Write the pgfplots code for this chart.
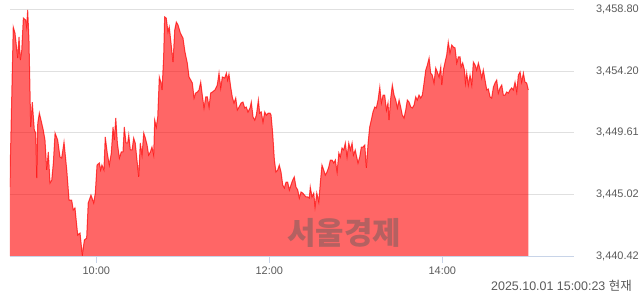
\documentclass[border=0pt]{standalone}
\usepackage{pgfplots}
\pgfplotsset{compat=1.18}
\usepackage{pgfplotstable}
\usepgfplotslibrary{fillbetween}
\usepackage{fontspec}
\setmainfont{Liberation Sans}
\newfontfamily\kr{Noto Sans CJK KR}
\definecolor{gridgray}{RGB}{224,224,224}
\definecolor{axisblue}{RGB}{200,212,232}
\definecolor{labgray}{RGB}{90,90,90}
\definecolor{wmgray}{RGB}{90,90,90}

\pgfplotstableread{
x y
0 3445.56
2.4 3457.48
3.6 3457.03
5.5 3455.17
6.4 3456.74
7.3 3455.02
8.3 3455.77
9.4 3458.15
11.0 3458.00
11.7 3457.48
12.4 3458.75
13.3 3456.51
14.5 3450.03
15.6 3451.89
17.0 3449.81
18.0 3449.58
18.7 3446.23
19.4 3450.33
20.5 3451.07
22.1 3450.33
23.2 3449.81
24.4 3449.06
25.6 3446.83
26.7 3448.17
27.9 3445.86
29.1 3446.08
30.2 3447.35
31.4 3449.58
33.2 3449.06
34.8 3447.80
36.0 3447.72
37.6 3448.91
39.5 3446.83
41.1 3444.59
42.9 3444.59
44.0 3443.85
45.2 3444.00
47.1 3441.98
48.7 3442.13
50.3 3440.49
51.7 3441.61
53.3 3441.76
54.4 3444.37
56.3 3444.96
58.2 3444.37
59.3 3445.11
60.5 3447.20
62.1 3447.35
63.0 3446.83
63.9 3447.20
65.3 3446.83
66.2 3449.29
67.6 3448.09
69.0 3447.20
70.4 3448.09
71.6 3450.03
72.5 3449.06
73.5 3450.70
74.6 3448.84
76.0 3447.72
77.3 3448.17
78.5 3448.17
79.4 3450.03
80.6 3448.84
81.8 3448.84
82.5 3449.43
83.6 3448.32
84.8 3448.32
85.9 3449.21
87.0 3448.84
88.2 3447.57
89.4 3446.31
90.5 3448.84
91.7 3447.94
92.9 3449.58
94.0 3449.21
95.2 3448.69
96.3 3447.94
97.5 3448.17
98.6 3448.54
99.8 3447.94
100.5 3450.55
101.6 3450.03
102.6 3450.78
103.7 3453.76
104.9 3453.31
105.6 3452.79
106.7 3455.25
107.4 3458.23
108.5 3458.15
109.7 3457.11
110.6 3457.48
111.8 3456.29
113.2 3454.87
114.4 3457.26
115.5 3457.85
116.7 3457.63
118.3 3457.03
120.1 3456.66
121.5 3455.62
123.1 3454.80
124.3 3453.76
125.5 3453.53
126.6 3453.31
127.8 3452.19
128.9 3452.56
130.1 3452.64
131.2 3452.79
132.4 3453.38
133.5 3452.41
134.7 3451.45
135.9 3452.27
137.0 3452.27
138.2 3451.52
139.3 3452.56
140.5 3452.64
142.3 3452.79
143.9 3453.16
145.1 3454.05
146.3 3452.94
147.4 3453.76
149.1 3453.68
150.2 3454.05
151.1 3453.53
152.0 3453.98
153.2 3453.01
154.3 3452.27
155.5 3451.82
156.7 3452.19
157.8 3451.30
159.0 3451.52
160.4 3451.82
161.7 3451.89
162.9 3451.45
164.0 3451.52
165.2 3451.15
166.6 3451.45
167.5 3451.89
168.7 3450.78
169.9 3450.55
171.0 3450.92
172.4 3452.04
173.3 3451.07
174.4 3451.15
175.6 3450.40
176.8 3451.15
177.9 3450.92
179.3 3451.07
180.5 3451.07
181.2 3450.92
182.3 3449.58
183.5 3447.57
184.6 3446.68
185.8 3446.83
186.9 3447.20
188.1 3446.68
189.3 3445.71
190.4 3445.49
191.6 3445.93
192.7 3445.93
193.9 3445.34
195.0 3445.71
196.2 3446.08
197.3 3446.31
198.5 3445.56
199.7 3445.34
200.8 3444.74
202.0 3445.19
203.2 3445.11
204.3 3444.96
205.4 3444.82
206.6 3444.82
207.7 3444.74
208.4 3445.56
209.6 3444.82
210.8 3445.11
211.7 3444.07
212.9 3445.11
214.3 3444.44
215.4 3445.93
216.5 3447.20
217.7 3446.83
218.8 3446.45
220.0 3446.68
221.2 3447.05
222.3 3447.57
223.5 3447.57
224.7 3447.35
225.8 3447.57
227.0 3446.68
228.2 3448.09
229.2 3447.80
230.4 3448.47
231.6 3448.32
232.7 3448.84
233.9 3447.80
235.1 3448.84
236.2 3448.32
237.4 3448.84
238.3 3447.94
239.6 3448.32
240.3 3447.94
241.5 3447.35
242.7 3447.80
243.8 3448.54
245.0 3448.54
246.2 3448.69
247.3 3446.98
248.5 3448.84
249.6 3450.03
250.7 3450.55
251.9 3451.15
253.1 3451.52
254.2 3451.45
255.4 3452.04
256.6 3453.01
257.7 3451.82
258.9 3452.41
260.0 3452.41
261.2 3451.30
262.3 3451.82
263.0 3450.55
264.2 3452.19
265.3 3453.16
266.5 3452.41
267.7 3452.04
268.8 3451.45
270.0 3452.04
271.1 3451.52
272.2 3450.92
273.4 3450.70
274.6 3451.30
275.7 3452.04
276.9 3451.89
278.1 3451.52
279.2 3451.45
280.4 3451.67
281.5 3452.27
282.6 3452.04
283.8 3452.41
285.0 3452.19
286.1 3452.41
287.3 3453.31
288.5 3454.28
289.6 3454.65
290.8 3455.17
291.9 3454.05
293.0 3453.90
294.2 3453.31
295.4 3454.43
296.5 3454.13
297.7 3453.76
298.9 3454.50
299.6 3453.16
300.7 3454.28
301.9 3454.87
303.0 3455.39
304.1 3456.36
305.3 3455.54
306.5 3456.14
307.6 3455.99
308.8 3455.92
310.0 3454.80
311.1 3455.25
312.3 3455.25
313.0 3454.50
314.1 3454.80
315.3 3454.28
316.0 3453.31
316.9 3454.05
318.0 3453.16
319.2 3453.90
320.4 3453.16
321.5 3454.87
322.7 3454.65
323.8 3454.28
325.0 3454.80
326.2 3454.28
327.3 3453.68
328.4 3454.28
329.6 3453.53
330.8 3452.79
331.9 3452.86
333.1 3452.27
334.2 3452.19
335.4 3453.01
336.5 3453.31
337.7 3453.53
338.8 3452.56
340.0 3452.94
341.2 3453.16
342.3 3452.41
343.5 3452.41
344.6 3452.64
345.8 3452.56
346.9 3452.79
348.1 3452.94
349.2 3452.79
350.4 3453.38
351.6 3452.64
352.7 3453.90
353.9 3454.13
355.0 3453.38
356.2 3454.05
357.3 3453.38
358.5 3453.31
359.6 3452.79
}\kospi

\begin{document}
\begin{tikzpicture}
\begin{axis}[
  at={(9.8bp,38bp)}, anchor=south west,
  scale only axis, width=564.2bp, height=246.7bp,
  xmin=0, xmax=391.3, ymin=3440.42, ymax=3458.80,
  axis x line*=bottom, axis y line*=right,
  x axis line style={color=axisblue, line width=0.9bp},
  y axis line style={draw=none},
  xtick={60,180,300}, xticklabels={10:00,12:00,14:00},
  ytick={3440.42,3445.02,3449.61,3454.20,3458.80},
  yticklabels={{3,440.42},{3,445.02},{3,449.61},{3,454.20},{3,458.80}},
  tick align=outside,
  xtick style={color=axisblue, line width=0.9bp},
  major tick length=7bp,
  ytick style={draw=none},
  ymajorgrids, grid style={color=gridgray, line width=0.9bp},
  /pgf/number format/assume math mode=true,
  tick label style={font=\fontsize{11}{13}\selectfont, text=labgray, inner sep=0pt},
  yticklabel style={anchor=east, xshift=58bp},
  xticklabel style={anchor=north, yshift=-3.5bp},
  clip=true,
]
\addplot[name path=price, draw=none] table[x=x,y=y] {\kospi};
\path[name path=base] (axis cs:0,3440.42) -- (axis cs:359.6,3440.42);
\addplot[fill=red, fill opacity=0.6, draw=none] fill between[of=price and base];
\addplot[color=red, draw opacity=0.7, line width=1bp] table[x=x,y=y] {\kospi};
\end{axis}
\node[text=wmgray, opacity=0.45, inner sep=0pt] at (344bp,61bp) {\kr\bfseries\fontsize{31}{33}\selectfont 서울경제};
\node[anchor=base east, inner sep=0pt, text=labgray] at (632bp,3.3bp) {\fontsize{12.5}{14}\selectfont 2025.10.01 15:00:23 {\kr 현재}};
\path (0,0) rectangle (640bp,294bp);
\end{tikzpicture}
\end{document}
